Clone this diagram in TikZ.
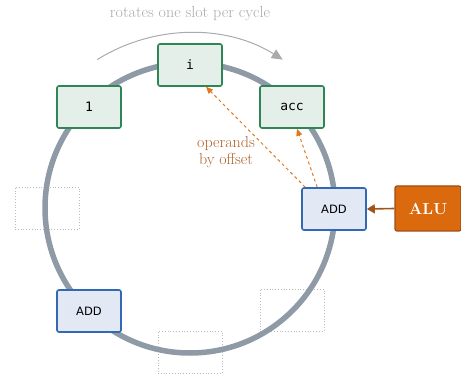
\documentclass[tikz,border=0pt]{standalone}
\usepackage{fontspec}
\newfontfamily\boxsans{DejaVu Sans}
\newfontfamily\boxmono{DejaVu Sans Mono}
\usetikzlibrary{arrows.meta,calc}
\definecolor{ringc}{HTML}{8E9BA6}
\definecolor{gfill}{HTML}{E4EFE9}
\definecolor{gline}{HTML}{2E8555}
\definecolor{bfill}{HTML}{E2E8F4}
\definecolor{bline}{HTML}{3368B5}
\definecolor{alufill}{HTML}{DB6A0F}
\definecolor{aluline}{HTML}{9C4E16}
\definecolor{brownarr}{HTML}{A0541A}
\definecolor{dasharr}{HTML}{E07820}
\definecolor{lblc}{HTML}{B0622A}
\definecolor{topc}{HTML}{AAAAAA}
\tikzset{
  slotbox/.style={rectangle, rounded corners=2pt, minimum width=64pt, minimum height=42pt, line width=1.6pt, inner sep=0pt},
  greenslot/.style={slotbox, draw=gline, fill=gfill, font=\boxmono\fontsize{13}{15}\selectfont},
  blueslot/.style={slotbox, draw=bline, fill=bfill, font=\boxsans\fontsize{11.5}{13}\selectfont},
  emptyslot/.style={rectangle, minimum width=64pt, minimum height=42pt, draw=topc!80, dotted, line width=0.8pt},
  opsarrow/.style={dasharr, dashed, line width=1pt, -{Triangle[length=7pt,width=6pt]}},
}
\begin{document}
\begin{tikzpicture}[x=1pt,y=-1pt]
\useasboundingbox (0,0) rectangle (461,377);
\coordinate (c) at (190,208);
% empty slots
\node[emptyslot] (e1) at (47,208) {};
\node[emptyslot] (e2) at (190,352) {};
\node[emptyslot] (e3) at (292,310) {};
% ring
\draw[ringc, line width=5.5pt] (c) circle[radius=145];
% rotation arc
\draw[topc, line width=1pt, -{Triangle[length=11pt,width=10pt]}] ($(c)+(-122:175)$) arc[start angle=-122, end angle=-58, radius=175];
\node[topc, font=\fontsize{16}{18}\selectfont] (rot) at (190,14) {rotates one slot per cycle};
% filled slots
\node[greenslot] (i) at (190,65) {i};
\node[greenslot] (acc) at (292,107) {acc};
\node[greenslot] (one) at (89,107) {1};
\node[blueslot] (add1) at (334,209) {ADD};
\node[blueslot] (add2) at (89,311) {ADD};
% ALU
\node[rectangle, rounded corners=2pt, minimum width=66pt, minimum height=45pt, fill=alufill, draw=aluline, line width=1.2pt, text=white, font=\bfseries\fontsize{16}{18}\selectfont] (alu) at (428,208.5) {ALU};
\draw[brownarr, line width=1.6pt, -{Triangle[length=8pt,width=9pt]}] (alu.west) -- (add1.east);
% operands arrows
\draw[opsarrow] ($(add1.north west)+(4,0)$) -- ($(i.south)+(16,0)$);
\draw[opsarrow] ($(add1.north west)+(16,0)$) -- ($(acc.south)+(5,0)$);
\node[lblc, align=center, font=\fontsize{16}{17}\selectfont] (lbl) at (226,152) {operands\\by offset};
\end{tikzpicture}
\end{document}
